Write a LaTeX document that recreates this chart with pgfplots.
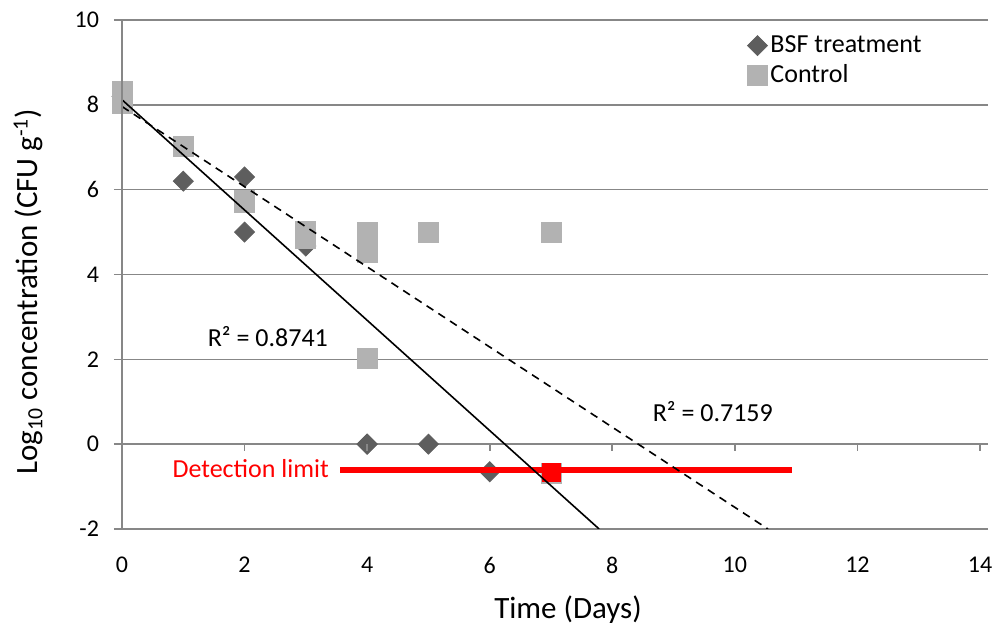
\documentclass[border=0pt]{standalone}
\usepackage{fontspec}
\setmainfont{Carlito}
\usepackage{pgfplots}
\pgfplotsset{compat=1.18}
\definecolor{gridc}{HTML}{878787}
\definecolor{bsf}{HTML}{5E5E5E}
\definecolor{ctrl}{HTML}{B2B2B2}
\begin{document}
\begin{tikzpicture}
\begin{axis}[name=ax, scale only axis, width=429pt, height=254.5pt,
  xmin=0, xmax=14, ymin=-2, ymax=10,
  xtick={0,2,...,14}, xticklabels={0,2,4,6,8,10,12,14},
  ytick={-2,0,...,10}, yticklabels={-2,0,2,4,6,8,10},
  ymajorgrids, grid style={gridc, line width=0.8pt},
  axis line style={draw=none},
  x tick style={draw=none},
  y tick style={gridc, line width=0.8pt},
  tick align=outside, major tick length=4pt,
  tick label style={font=\fontsize{12}{14}\selectfont, text=black},
  yticklabel style={xshift=-4pt},
  xticklabel style={yshift=-6.5pt},
  xlabel={Time (Days)},
  ylabel={Log\textsubscript{10} concentration (CFU g\textsuperscript{-1})},
  label style={font=\fontsize{15.5}{18}\selectfont},
  xlabel style={at={([xshift=8.5pt,yshift=-45pt]axis description cs:0.5,0)}, anchor=base},
  ylabel style={at={([xshift=-42pt,yshift=-8.5pt]axis description cs:0,0.5)}, anchor=base, rotate=0},
  clip mode=individual,
  legend style={draw=none, fill=none, inner sep=0pt, outer sep=0pt,
    at={(axis description cs:0.729,0.975)}, anchor=north west,
    font=\fontsize{13}{15}\selectfont, row sep=1.5pt,
    nodes={inner sep=1.5pt}},
  legend cell align=left,
  legend image code/.code={\path[draw=none, fill=none] (0pt,-4.5pt) rectangle (9pt,4.5pt); \draw[#1] plot coordinates {(4.5pt,0pt)};},
]
\addplot[only marks, mark=diamond*, mark size=5pt, mark options={xscale=1.333, fill=bsf, draw=bsf}]
  coordinates {(0,8.2) (1,6.2) (2,6.3) (2,5.0) (3,4.67) (4,0) (4,0) (5,0) (6,-0.65) (7,-0.7)};
\addlegendentry{BSF treatment}
\addplot[only marks, mark=square*, mark size=5pt, mark options={fill=ctrl, draw=ctrl}]
  coordinates {(0,8.31) (0,8.04) (1,7.02) (2,5.75) (2,5.7) (3,5.02) (3,4.86) (4,5.0) (4,4.51) (4,2.02) (5,5.0) (7,5.0) (7,-0.7)};
\addlegendentry{Control}
\addplot[forget plot, red, line width=3pt] coordinates {(3.56,-0.62) (10.93,-0.62)};
\addplot[forget plot, only marks, mark=square*, mark size=4.5pt, mark options={fill=red, draw=red}]
  coordinates {(7,-0.66)};
\addplot[forget plot, black, line width=0.8pt] coordinates {(0,8.12) (7.785,-2)};
\addplot[forget plot, black, line width=0.8pt, dash pattern=on 4pt off 3pt] coordinates {(0,7.96) (10.54,-2)};
\draw[gridc, line width=0.8pt] (axis cs:0,-2) -- (axis cs:0,10);
\pgfplotsinvokeforeach{0,2,...,14}{\draw[gridc, line width=0.8pt] (axis cs:#1,0) -- ++(0pt,-3.5pt);}
\node[anchor=base, font=\fontsize{13}{15}\selectfont] at (axis cs:2.38,2.31) {R² = 0.8741};
\node[anchor=base, font=\fontsize{13}{15}\selectfont] at (axis cs:9.64,0.54) {R² = 0.7159};
\node[anchor=base, text=red, font=\fontsize{13}{15}\selectfont] at (axis cs:2.10,-0.78) {Detection limit};
\end{axis}
\pgfresetboundingbox
\path[use as bounding box] ([xshift=-61pt,yshift=-48pt]ax.south west) rectangle ([xshift=9pt,yshift=10pt]ax.north east);
\end{tikzpicture}
\end{document}
